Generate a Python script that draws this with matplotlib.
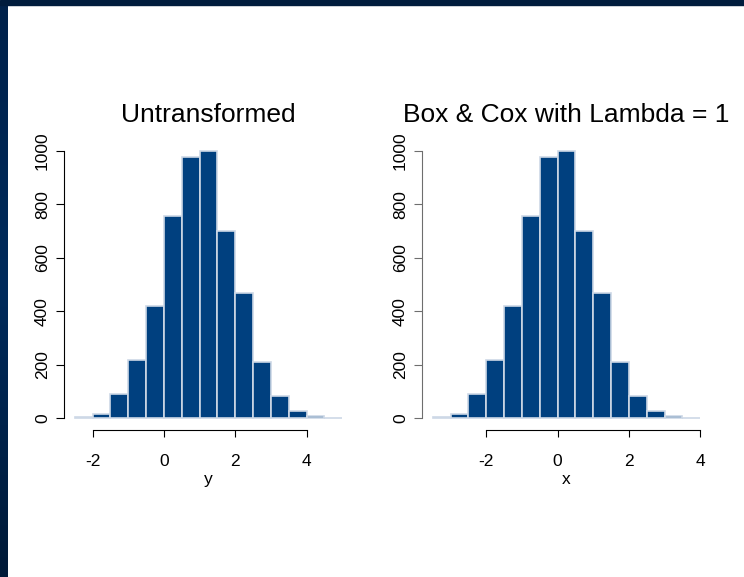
"""
histogrammes : non transforme vs Box & Cox (lambda = 1)
"""
import numpy as np
import matplotlib
matplotlib.use("Agg")
from matplotlib import pyplot as plt
from matplotlib.colors import LinearSegmentedColormap
from matplotlib.patches import Rectangle

# donnees (classes de largeur 0.5)
counts = [3, 15, 90, 218, 420, 755, 978, 998, 700, 470, 212, 82, 28, 7, 2]
y_start = -2.5      # premiere borne, panneau "Untransformed"
x_start = -3.5      # premiere borne, panneau Box & Cox
bin_width = 0.5
yticks = [0, 200, 400, 600, 800, 1000]
xticks = [-2, 0, 2, 4]
titles = ["Untransformed", "Box & Cox with Lambda = 1"]
xlabels = ["y", "x"]

W, H = 744, 577
bar_col = "#00407f"
edge_col = "#cdd8e6"

plt.rcParams['font.family'] = ['Liberation Sans', 'DejaVu Sans']
plt.rcParams['axes.unicode_minus'] = False

fig = plt.figure(figsize=(W / 100, H / 100), dpi=100)
fig.patch.set_facecolor("white")

# bordure sombre (haut + gauche en degrade)
fig.patches.append(Rectangle((0, 1 - 5 / H), 1, 5 / H, transform=fig.transFigure,
                             color="#001c3d", zorder=0))
grad = fig.add_axes([0, 0, 8 / W, 1 - 5 / H])
cmap = LinearSegmentedColormap.from_list("bord", ["#00224b", "#002b5c", "#001a38"])
grad.imshow(np.linspace(0, 1, 200)[:, None], aspect="auto", cmap=cmap)
grad.axis("off")


def panel(left_px, start, title, xlabel, spine_col):
    ax = fig.add_axes([left_px / W, (H - 429) / H, 289 / W, 289 / H])
    edges = start + bin_width * np.arange(len(counts) + 1)
    ax.bar(edges[:-1], counts, width=bin_width, align="edge",
           color=bar_col, edgecolor=edge_col, linewidth=1.2)
    lo, hi = edges[0], edges[-1]
    pad = 0.04 * (hi - lo)
    ax.set_xlim(lo - pad, hi + pad)
    ax.set_ylim(-40, 1040)
    for s in ("top", "right"):
        ax.spines[s].set_visible(False)
    ax.spines["left"].set_bounds(0, 1000)
    ax.spines["bottom"].set_bounds(xticks[0], xticks[-1])
    ax.spines["left"].set_color(spine_col)
    ax.spines["bottom"].set_position(("outward", 1))
    ax.set_yticks(yticks)
    ax.set_xticks(xticks)
    ax.set_yticklabels([str(v) for v in yticks], rotation=90, va="center")
    ax.tick_params(axis="y", length=6, pad=4, labelsize=12.5, color=spine_col)
    ax.tick_params(axis="x", length=5, pad=12, labelsize=12.5)
    ax.set_xlabel(xlabel, fontsize=12.5, labelpad=2)
    ax.set_title(title, fontsize=19, pad=13)
    return ax


panel(64, y_start, titles[0], xlabels[0], "black")
panel(422, x_start, titles[1], xlabels[1], "#6e6e6e")

fig.savefig("out.png", dpi=100)
